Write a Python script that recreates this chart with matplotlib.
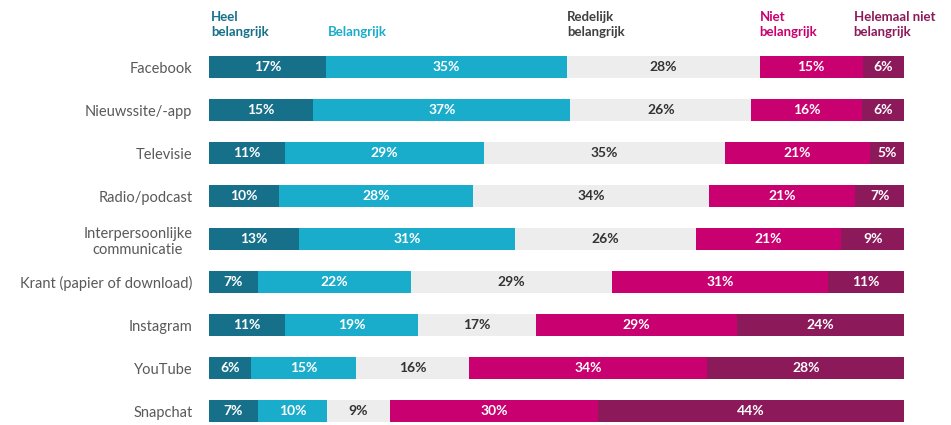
import matplotlib
matplotlib.use("Agg")
import matplotlib.pyplot as plt
import numpy as np

plt.rcParams["font.family"] = ["Lato", "DejaVu Sans"]

categories = [
    "Facebook",
    "Nieuwssite/-app",
    "Televisie",
    "Radio/podcast",
    "Interpersoonlijke\ncommunicatie",
    "Krant (papier of download)",
    "Instagram",
    "YouTube",
    "Snapchat",
]
series_names = [
    "Heel\nbelangrijk",
    "Belangrijk",
    "Redelijk\nbelangrijk",
    "Niet\nbelangrijk",
    "Helemaal niet\nbelangrijk",
]
heel = [17, 15, 11, 10, 13, 7, 11, 6, 7]
belangrijk = [35, 37, 29, 28, 31, 22, 19, 15, 10]
redelijk = [28, 26, 35, 34, 26, 29, 17, 16, 9]
niet = [15, 16, 21, 21, 21, 31, 29, 34, 30]
helemaal = [6, 6, 5, 7, 9, 11, 24, 28, 44]

colors = ["#17708a", "#1aaccb", "#ededed", "#c9006f", "#8c1a5b"]
text_colors = ["white", "white", "#333333", "white", "white"]
header_colors = ["#17708a", "#1aaccb", "#404040", "#c9006f", "#8c1a5b"]
header_shift = [0.3, 0.3, 0, 0, -1.3]

data = np.array([heel, belangrijk, redelijk, niet, helemaal], dtype=float)
shares = data / data.sum(axis=0) * 100  # rows add up to 100-101, bars are full width

fig = plt.figure(figsize=(9.51, 4.25), dpi=100)
ax = fig.add_axes([0.2198, 0.0026, 0.7308, 0.890])

y = np.arange(len(categories))
left = np.zeros(len(categories))
for i in range(len(series_names)):
    ax.barh(y, shares[i], left=left, height=0.51, color=colors[i], edgecolor="none")
    for j in range(len(categories)):
        ax.text(left[j] + shares[i][j] / 2, y[j], f"{int(data[i][j])}%",
                ha="center", va="center", fontsize=10, fontweight="bold",
                color=text_colors[i])
    # header above the first bar, at the start of each segment
    ax.text(left[0] + header_shift[i], -0.67, series_names[i], ha="left", va="bottom",
            fontsize=9.5, fontweight="bold", color=header_colors[i], clip_on=False,
            linespacing=1.3)
    left += shares[i]

ax.set_xlim(0, 100)
ax.set_ylim(8.3, -0.5)
ax.set_yticks(y)
ax.set_yticklabels(categories, fontsize=10.5, color="#595959", multialignment="center")
ax.tick_params(axis="y", length=0, pad=12)
ax.set_xticks([])
for s in ax.spines.values():
    s.set_visible(False)

fig.savefig("out.png", dpi=100)
